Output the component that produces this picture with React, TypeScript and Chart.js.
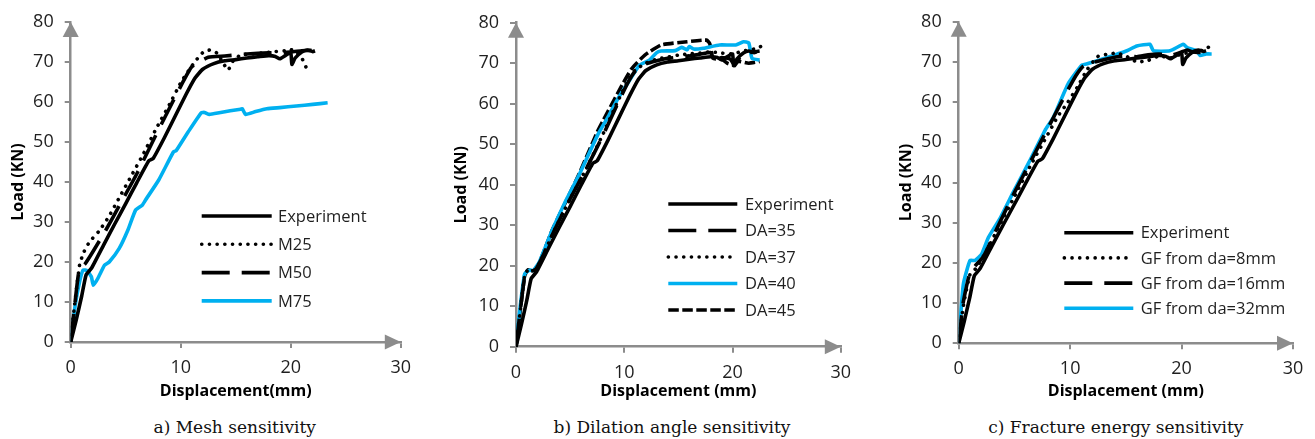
import React, { useEffect, useRef } from 'react';
import { Chart, registerables } from 'chart.js';

Chart.register(...registerables);

const AXIS_GRAY = '#8c8c8c';
const BLUE = '#00b0f0';
const BLACK = '#000000';
const TEXT = '#1f1f1f';

// ---- Shared experiment curve ----
const expX = [0, 0.5, 1.0, 1.4, 1.9, 3, 4, 5, 6, 7.1, 7.5, 8.5, 9.5, 10.5, 11.3, 12, 13, 14, 15, 16, 17, 18, 18.6, 19, 19.5, 20, 20.1, 20.4, 21, 21.5, 22, 22.2];
const expY = [0, 5.5, 11.5, 16.8, 18.5, 24.3, 29.5, 34.6, 39.8, 45.3, 45.9, 51, 56.5, 62, 66, 68.2, 69.6, 70.3, 70.6, 71, 71.3, 71.6, 71.4, 70.8, 71.6, 72.3, 69.4, 71, 72.5, 73, 72.6, 72.8];

// ---- a) Mesh sensitivity ----
const m25X = [0, 0.3, 0.6, 0.83, 1.2, 1.7, 2.6, 3.5, 4.4, 5.5, 6.6, 7.8, 9, 10, 10.8, 11.5, 12.1, 12.7, 13.3, 13.8, 14.3, 14.8, 15.5, 16.5, 17.5, 18.5, 19.5, 20, 20.5, 21, 21.5];
const m25Y = [0, 8, 15, 19.6, 22.5, 25, 27.8, 31.5, 36, 41.5, 47, 53.5, 59.5, 64.8, 68.2, 70.8, 72.6, 73, 72.2, 70, 68, 70.5, 71.8, 72, 72.3, 72.6, 72.8, 73.1, 72.5, 71, 68];
const m50X = [0, 0.4, 0.77, 1.3, 2, 3.2, 4.5, 6, 7.7, 8.8, 9.8, 11, 12.5, 14, 16, 18, 20, 21, 22.3];
const m50Y = [0, 10, 18, 19.5, 22.5, 28, 34.5, 42, 51.5, 57.5, 62.9, 68.8, 71.2, 71.5, 72, 72.3, 72.5, 72.8, 73];
const m75X = [0, 0.4, 0.8, 1.13, 1.5, 1.88, 2.05, 2.47, 3.07, 3.5, 4.41, 5.2, 5.9, 6.5, 6.8, 8, 9.33, 9.6, 10.67, 11.86, 12.16, 12.6, 13.5, 14.5, 15.44, 15.6, 15.89, 16.8, 17.83, 19, 20.5, 22, 23.35];
const m75Y = [0, 9, 15, 18, 17.8, 16.3, 14.2, 15.9, 19.2, 20, 23.4, 28, 33, 34.2, 35.5, 40.5, 47.5, 47.9, 52.5, 57.3, 57.4, 56.9, 57.3, 57.8, 58.2, 58.3, 56.9, 57.6, 58.3, 58.6, 59, 59.4, 59.8];

// ---- b) Dilation angle sensitivity ----
const da35X = [0, 0.4, 0.85, 1.3, 1.8, 2.5, 3.5, 5, 6.5, 8, 9.3, 10.3, 11, 12, 13, 14, 15, 16, 17, 18, 18.3, 19, 19.8, 20.2, 20.7, 21.3, 22, 22.5];
const da35Y = [0, 9, 18, 18.6, 19, 22.5, 28.5, 36.5, 44, 52, 59.5, 65, 68, 69.8, 70.6, 71.2, 71.5, 71.8, 72.2, 72.6, 70.8, 71.4, 71, 69.4, 71.5, 72.5, 72.8, 73];
const da37X = [0, 0.4, 0.85, 1.3, 1.8, 2.5, 3.5, 5, 6.5, 8, 9.3, 10.3, 11, 12, 13, 14, 15, 16, 17, 18, 19, 20, 21, 22, 22.8];
const da37Y = [0, 9, 18.3, 19, 19, 22.5, 28.5, 36.5, 44, 52.3, 60, 65.5, 68.3, 70, 71, 71.5, 72, 72.3, 72.5, 72.8, 72.5, 72.3, 73, 73.5, 74.3];
const da40X = [0, 0.3, 0.8, 1.26, 1.6, 2.16, 3.35, 4.5, 5.75, 7.55, 8.6, 9.34, 10.4, 11.4, 12.34, 12.94, 13.4, 14.7, 15.3, 15.8, 16, 16.4, 17.3, 18.8, 20.3, 21, 21.5, 21.8, 22.5];
const da40Y = [0, 8, 18, 18.9, 18.8, 21, 28.8, 35.5, 42, 52.3, 57.2, 60.9, 65.4, 69.5, 70.8, 72.5, 73, 73.1, 73.9, 73.3, 74.1, 73.5, 73.7, 74.5, 74.5, 75.3, 75, 71.2, 70.8];
const da45X = [0, 0.35, 0.8, 1.1, 1.6, 2.2, 3.35, 5.75, 7.5, 8, 9.8, 10.7, 11.9, 13.4, 15.8, 17.6, 17.9, 18.2, 19, 19.5, 20, 20.5, 21.5, 22.5];
const da45Y = [0, 8, 17.5, 19, 18.6, 21, 28.8, 42.2, 53, 55.6, 64.6, 68.7, 72, 74.5, 75.3, 75.7, 74.8, 71.2, 71, 70, 69.6, 70.5, 70, 70.4];

// ---- c) Fracture energy sensitivity ----
const gf8X = [0, 0.4, 1.0, 1.5, 2.5, 3.5, 5, 6.5, 8, 8.9, 9.8, 10.7, 11.5, 12.5, 13.5, 14.2, 15, 16, 17, 18, 19, 20, 21, 22, 22.6];
const gf8Y = [0, 9, 17, 18.5, 23, 28.5, 36.5, 44.5, 52, 56.5, 60, 64, 68, 71.4, 72, 72.2, 71.5, 70, 70.4, 71.5, 71, 72, 72.5, 73, 74];
const gf16X = [0, 0.4, 0.9, 1.4, 2.2, 3.5, 5, 6.5, 8, 9.5, 10.5, 11.2, 12.5, 14, 15, 16, 17, 18, 19, 20, 20.5, 21, 22];
const gf16Y = [0, 10, 16.5, 19, 21.5, 29, 37.5, 45.5, 53.5, 61.5, 66.5, 69, 70.2, 71.2, 71.5, 71.3, 71.8, 72, 71.6, 72.5, 73, 72.5, 72.3];
const gf32X = [0, 0.41, 1.01, 1.46, 2.06, 2.66, 3.71, 4.9, 6.3, 7.75, 8.49, 9.84, 11.04, 11.6, 12.98, 15.1, 15.98, 17.17, 17.47, 18.96, 20.16, 20.5, 21.37, 21.66, 22.2, 22.7];
const gf32Y = [0, 14.6, 20.6, 20.6, 22.2, 26.3, 31.1, 37.6, 45, 53, 56.2, 64.7, 69.2, 69.6, 70.8, 72.8, 74, 74.4, 72.8, 72.8, 74.4, 73.6, 72.8, 71.6, 72, 72];

const xTicks = [0, 10, 20, 30];
const yTicks = [0, 10, 20, 30, 40, 50, 60, 70, 80];

const SOLID: number[] = [];
const DOTTED = [0.1, 7.6];
const LONG_DASH = [28, 12];
const SHORT_DASH = [10.5, 3.5];

function ds(label: string, xs: number[], ys: number[], color: string, dash: number[]) {
  return {
    label,
    data: xs.map((x, i) => ({ x, y: ys[i] })),
    borderColor: color,
    backgroundColor: color,
    borderWidth: 3.6,
    borderDash: dash,
    borderCapStyle: dash === DOTTED ? 'round' : 'butt',
    borderJoinStyle: 'round',
    pointRadius: 0,
    pointHoverRadius: 0,
    fill: false,
    tension: 0.15,
  };
}

const lineLegend = {
  id: 'lineLegend',
  afterDraw(chart: any, _args: any, opts: any) {
    const ctx = chart.ctx;
    ctx.save();
    chart.data.datasets.forEach((d: any, i: number) => {
      const y = opts.y0 + i * opts.dy;
      ctx.beginPath();
      ctx.strokeStyle = d.borderColor;
      ctx.lineWidth = d.borderWidth;
      ctx.setLineDash(d.borderDash || []);
      ctx.lineCap = d.borderCapStyle || 'butt';
      ctx.moveTo(opts.x0, y);
      ctx.lineTo(opts.x1, y);
      ctx.stroke();
      ctx.setLineDash([]);
      ctx.fillStyle = TEXT;
      ctx.font = '16.5px "Open Sans"';
      ctx.textBaseline = 'middle';
      ctx.textAlign = 'left';
      ctx.fillText(d.label, opts.tx, y + 1);
    });
    ctx.restore();
  },
};

const axisArrows = {
  id: 'axisArrows',
  afterDraw(chart: any) {
    const { left, right, top, bottom } = chart.chartArea;
    const ctx = chart.ctx;
    ctx.save();
    ctx.fillStyle = AXIS_GRAY;
    ctx.beginPath();
    ctx.moveTo(left, top);
    ctx.lineTo(left - 8, top + 15);
    ctx.lineTo(left + 8, top + 15);
    ctx.closePath();
    ctx.fill();
    ctx.beginPath();
    ctx.moveTo(right, bottom);
    ctx.lineTo(right - 16, bottom - 7.5);
    ctx.lineTo(right - 16, bottom + 7.5);
    ctx.closePath();
    ctx.fill();
    ctx.restore();
  },
};

type PanelProps = {
  left: number;
  width: number;
  height: number;
  areaLeft: number;
  areaRight: number;
  areaTop: number;
  areaBottom: number;
  xTitle: string;
  yTitlePad: number;
  xTitlePad: number;
  datasets: any[];
  legend: { x0: number; x1: number; tx: number; y0: number; dy: number };
};

function Panel(p: PanelProps) {
  const ref = useRef<HTMLCanvasElement | null>(null);
  useEffect(() => {
    if (!ref.current) return;
    const yWidth = p.areaLeft - p.left;
    const xHeight = p.height - p.areaBottom;
    const tickFont = { family: 'Open Sans', size: 18 };
    const titleFont = { family: 'Open Sans', size: 16, weight: 'bold' as const };
    const chart = new Chart(ref.current, {
      type: 'line',
      data: { datasets: p.datasets },
      plugins: [lineLegend, axisArrows],
      options: {
        animation: false,
        responsive: false,
        events: [],
        layout: {
          padding: { left: 0, top: p.areaTop, right: p.left + p.width - p.areaRight, bottom: 0 },
        },
        plugins: {
          legend: { display: false },
          tooltip: { enabled: false },
          title: { display: false },
          lineLegend: p.legend,
        } as any,
        scales: {
          x: {
            type: 'linear',
            min: 0,
            max: 30,
            afterBuildTicks: (s: any) => { s.ticks = xTicks.map((v) => ({ value: v })); },
            afterFit: (s: any) => { s.height = xHeight; },
            grid: { display: true, drawOnChartArea: false, drawTicks: true, tickLength: 6, color: AXIS_GRAY, lineWidth: 2 },
            border: { display: true, color: AXIS_GRAY, width: 2.5 },
            ticks: { font: tickFont, color: TEXT, padding: 8.9, maxRotation: 0, autoSkip: false },
            title: { display: true, text: p.xTitle, font: titleFont, color: '#000', padding: { top: 0, bottom: p.xTitlePad } },
          },
          y: {
            type: 'linear',
            min: 0,
            max: 80,
            afterBuildTicks: (s: any) => { s.ticks = yTicks.map((v) => ({ value: v })); },
            afterFit: (s: any) => { s.width = yWidth; },
            grid: { display: true, drawOnChartArea: false, drawTicks: true, tickLength: 6, color: AXIS_GRAY, lineWidth: 2 },
            border: { display: true, color: AXIS_GRAY, width: 2.5 },
            ticks: { font: tickFont, color: TEXT, padding: 11, autoSkip: false },
            title: { display: true, text: 'Load (KN)', font: titleFont, color: '#000', padding: { top: p.yTitlePad, bottom: 0 } },
          },
        },
      } as any,
    });
    return () => chart.destroy();
  }, []);
  return (
    <canvas
      ref={ref}
      width={p.width}
      height={p.height}
      style={{ position: 'absolute', left: p.left, top: 0, width: p.width, height: p.height }}
    />
  );
}

const captionStyle = (cx: number): React.CSSProperties => ({
  position: 'absolute',
  left: cx,
  top: 427,
  transform: 'translate(-50%, -50%)',
  fontFamily: '"DejaVu Serif", serif',
  fontSize: 17,
  color: '#111',
  whiteSpace: 'nowrap',
});

export default function App() {
  const H = 410;
  return (
    <div style={{ position: 'absolute', left: 0, top: 0, width: 1315, height: 439, background: '#fff', overflow: 'hidden' }}>
      <Panel
        left={0}
        width={420}
        height={H}
        areaLeft={70.7}
        areaRight={406}
        areaTop={22}
        areaBottom={342}
        xTitle="Displacement(mm)"
        yTitlePad={8.7}
        xTitlePad={8.7}
        legend={{ x0: 201.7, x1: 271.7, tx: 278, y0: 216, dy: 28.3 }}
        datasets={[
          ds('Experiment', expX, expY, BLACK, SOLID),
          ds('M25', m25X, m25Y, BLACK, DOTTED),
          ds('M50', m50X, m50Y, BLACK, LONG_DASH),
          ds('M75', m75X, m75Y, BLUE, SOLID),
        ]}
      />
      <Panel
        left={440}
        width={420}
        height={H}
        areaLeft={516}
        areaRight={850}
        areaTop={22.7}
        areaBottom={346.7}
        xTitle="Displacement (mm)"
        yTitlePad={12.1}
        xTitlePad={8.7}
        legend={{ x0: 668.3 - 440, x1: 737.3 - 440, tx: 745 - 440, y0: 204, dy: 26.5 }}
        datasets={[
          ds('Experiment', expX, expY, BLACK, SOLID),
          ds('DA=35', da35X, da35Y, BLACK, LONG_DASH),
          ds('DA=37', da37X, da37Y, BLACK, DOTTED),
          ds('DA=40', da40X, da40Y, BLUE, SOLID),
          ds('DA=45', da45X, da45Y, BLACK, SHORT_DASH),
        ]}
      />
      <Panel
        left={880}
        width={435}
        height={H}
        areaLeft={958.7}
        areaRight={1293}
        areaTop={13.7}
        areaBottom={343.3}
        xTitle="Displacement (mm)"
        yTitlePad={16.4}
        xTitlePad={8.7}
        legend={{ x0: 1064.3 - 880, x1: 1133.3 - 880, tx: 1140.7 - 880, y0: 232.7, dy: 25.2 }}
        datasets={[
          ds('Experiment', expX, expY, BLACK, SOLID),
          ds('GF from da=8mm', gf8X, gf8Y, BLACK, DOTTED),
          ds('GF from da=16mm', gf16X, gf16Y, BLACK, LONG_DASH),
          ds('GF from da=32mm', gf32X, gf32Y, BLUE, SOLID),
        ]}
      />
      <div style={captionStyle(234.7)}>a) Mesh sensitivity</div>
      <div style={captionStyle(672)}>b) Dilation angle sensitivity</div>
      <div style={captionStyle(1115.8)}>c) Fracture energy sensitivity</div>
    </div>
  );
}
